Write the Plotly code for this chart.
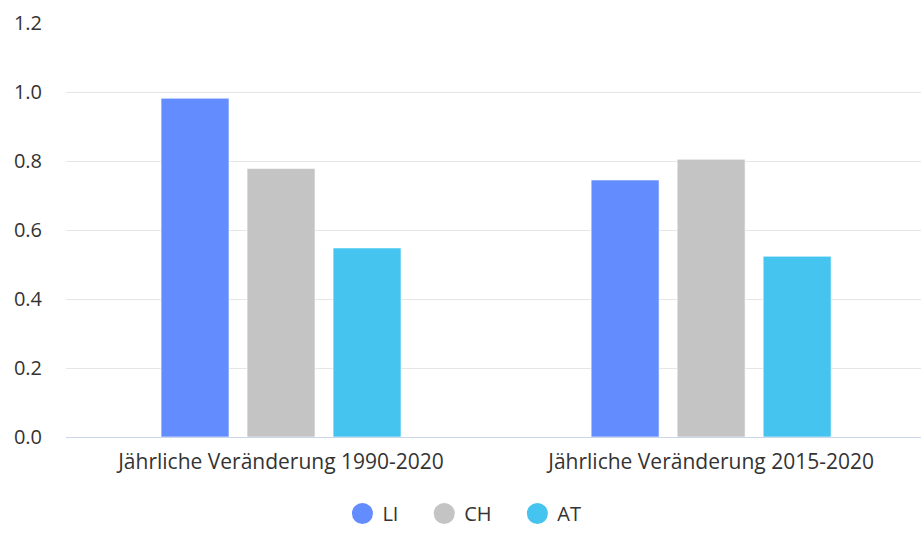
import plotly.graph_objects as go

categories = ["Jährliche Veränderung 1990-2020", "Jährliche Veränderung 2015-2020"]
series_names = ["LI", "CH", "AT"]
li_values = [0.982, 0.745]
ch_values = [0.778, 0.805]
at_values = [0.548, 0.524]
colors = ["#638cff", "#c4c4c4", "#45c4f0"]
y_ticks = [0.0, 0.2, 0.4, 0.6, 0.8, 1.0, 1.2]

values = [li_values, ch_values, at_values]
pad = "\u00a0\u00a0\u00a0\u00a0"

fig = go.Figure()
for name, vals, col in zip(series_names, values, colors):
    fig.add_trace(go.Bar(
        x=categories, y=vals, name=name, marker_color=col,
        marker_line=dict(color="rgba(255,255,255,0.6)", width=1),
        showlegend=False, legendgroup=name,
    ))
for i, (name, col) in enumerate(zip(series_names, colors)):
    fig.add_trace(go.Scatter(
        x=[None], y=[None], mode="markers",
        name=name + (pad if i < len(series_names) - 1 else ""),
        legendgroup=name,
        marker=dict(symbol="circle", size=16, color=col,
                    line=dict(color=col, width=5)),
    ))

fig.update_layout(
    width=921, height=533,
    margin=dict(l=66, r=0, t=23, b=96),
    plot_bgcolor="white", paper_bgcolor="white",
    font=dict(family="'Open Sans', sans-serif", size=20, color="#333333"),
    barmode="group", bargap=0.4, bargroupgap=0.21,
    legend=dict(orientation="h", x=0.466, xanchor="center",
                yref="container", y=-0.007, yanchor="bottom",
                font=dict(size=20, color="#333333"), itemsizing="trace",
                traceorder="normal"),
    xaxis=dict(range=[-0.5, 1.488], showgrid=False, showline=True,
               linecolor="#ccd6eb", linewidth=1, ticks="", tickfont=dict(size=21),
               ticklabelstandoff=6, fixedrange=True),
    yaxis=dict(range=[0, 1.2], tickvals=y_ticks, tickformat=".1f",
               showgrid=True, gridcolor="#e6e6e6", gridwidth=1,
               zeroline=False, showline=False, ticks="", ticklabelstandoff=23,
               tickfont=dict(size=20), fixedrange=True),
)

fig.write_html("out.html", config={"displayModeBar": False},
               post_script="document.body.style.margin='0';")
